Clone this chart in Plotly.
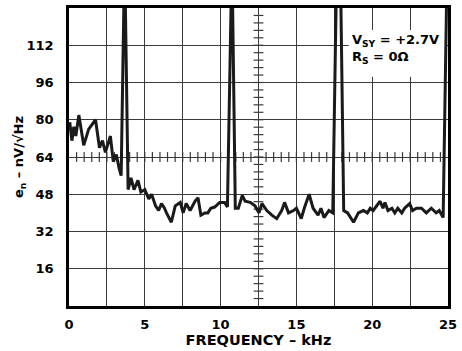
import plotly.graph_objects as go

# frequency (kHz) and noise density (nV/rtHz)
freq_khz = [0.05, 0.19, 0.32, 0.45, 0.65, 0.97, 1.30, 1.75, 2.01, 2.21, 2.40, 2.73, 2.92, 3.12, 3.31, 3.44,
            3.67, 3.90, 4.09, 4.29, 4.55, 4.74, 5.00, 5.26, 5.45, 5.71, 5.91, 6.10, 6.30, 6.43, 6.75, 7.01,
            7.34, 7.53, 7.73, 7.99, 8.31, 8.51, 8.70, 8.96, 9.16, 9.35, 9.61, 9.94, 10.26, 10.45, 10.75, 10.97,
            11.17, 11.43, 11.62, 11.95, 12.27, 12.53, 12.73, 13.05, 13.38, 13.70, 14.03, 14.22, 14.48, 14.81,
            15.00, 15.32, 15.52, 15.84, 16.10, 16.43, 16.62, 16.82, 17.14, 17.40, 17.79, 18.12, 18.38, 18.77,
            19.09, 19.42, 19.68, 19.87, 20.06, 20.32, 20.52, 20.71, 20.84, 21.04, 21.30, 21.49, 21.69, 21.95,
            22.14, 22.47, 22.66, 22.92, 23.25, 23.57, 23.90, 24.22, 24.42, 24.68, 25.0]
noise = [79, 71, 77, 73, 82, 69, 76, 80, 68, 71, 66, 73, 62, 65, 59, 56,
         150, 50, 55, 50, 54, 49, 50, 46, 48, 43, 41, 44, 42, 40, 36, 43,
         44.5, 40, 44, 41, 45, 46.5, 39, 40, 40, 42, 42.5, 44.5, 44.5, 42.5, 150, 42,
         42, 47.5, 45, 44.5, 43, 40, 44, 41, 39, 37.5, 41, 44.5, 40, 41,
         42, 37.5, 42, 48, 42, 39, 42, 38, 41, 40, 200, 41, 40, 36,
         40, 41, 40, 42, 41, 43, 45, 42, 44.5, 41, 42, 40, 42, 40,
         42, 44, 41, 42, 42, 40, 42, 40, 41, 38, 170]

x_ticks = [0, 5, 10, 15, 20, 25]
y_ticks = [16, 32, 48, 64, 80, 96, 112]

# minor tick marks on the centre cross
cross_x_ticks = [i * 0.5 for i in range(1, 50)]
cross_y_ticks = [i * 3.2 for i in range(1, 40)]

FONT = "DejaVu Sans, Arial, sans-serif"
GRID = "#3a3a3a"

fig = go.Figure()

fig.add_trace(go.Scatter(
    x=cross_x_ticks, y=[64] * len(cross_x_ticks),
    mode='markers', hoverinfo='skip',
    marker=dict(symbol='line-ns', size=7, line=dict(color=GRID, width=1.2)),
))
fig.add_trace(go.Scatter(
    x=[12.5] * len(cross_y_ticks), y=cross_y_ticks,
    mode='markers', hoverinfo='skip',
    marker=dict(symbol='line-ew', size=7, line=dict(color=GRID, width=1.2)),
))

fig.add_trace(go.Scatter(
    x=freq_khz, y=noise,
    mode='lines',
    line=dict(color='#1a1a1a', width=3),
))

# white patch behind the condition text
fig.add_shape(type='rect', x0=18.45, x1=24.85, y0=98.5, y1=118.5,
              fillcolor='white', line=dict(width=0), layer='between')

fig.add_annotation(
    x=18.55, y=118.5, xref='x', yref='y', xanchor='left', yanchor='top',
    text="V<sub>SY</sub> = +2.7V<br>R<sub>S</sub> = 0Ω",
    showarrow=False, align='left',
    font=dict(family=FONT, size=13, color='black', weight='bold'),
)

fig.update_layout(
    width=462, height=351,
    margin=dict(l=69, r=8, t=5, b=44),
    plot_bgcolor='white', paper_bgcolor='white',
    showlegend=False,
    font=dict(family=FONT, color='black'),
)
fig.update_xaxes(
    range=[0, 25], tickvals=x_ticks, ticks='',
    showgrid=True, gridcolor=GRID, gridwidth=1.3,
    minor=dict(dtick=2.5, showgrid=True, gridcolor=GRID, gridwidth=1.3),
    showline=True, linecolor='black', linewidth=2.5, mirror=True,
    zeroline=False,
    tickfont=dict(size=13, weight='bold'),
    ticklabelstandoff=5, ticklabeloverflow='allow',
    title=dict(text='FREQUENCY – kHz', font=dict(size=14.5, weight='bold'), standoff=4),
)
fig.update_yaxes(
    range=[0, 128], tickvals=y_ticks, ticks='',
    showgrid=True, gridcolor=GRID, gridwidth=1.3,
    showline=True, linecolor='black', linewidth=2.5, mirror=True,
    zeroline=False,
    tickfont=dict(size=13, weight='bold'),
    ticklabelstandoff=10,
    title=dict(text='e<sub>n</sub> – nV/√Hz', font=dict(size=13, weight='bold'), standoff=0),
)

fig.write_html("out.html", config={'displayModeBar': False},
               post_script="document.body.style.margin='0';")
